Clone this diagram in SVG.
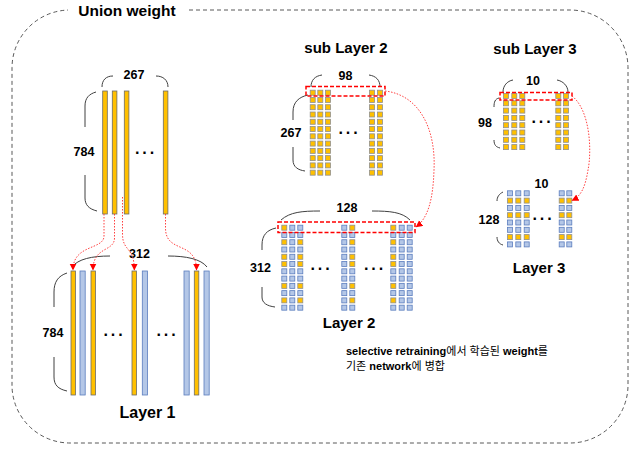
<svg xmlns="http://www.w3.org/2000/svg" width="640" height="454" viewBox="0 0 640 454">
<style>
text{font-family:"Liberation Sans","Noto Sans CJK KR",sans-serif;fill:#000}
.t{font-size:15px;font-weight:bold;text-anchor:middle}
.n{font-size:12.5px;font-weight:bold;text-anchor:middle}
.d{font-size:16px;font-weight:bold;text-anchor:middle;letter-spacing:2px}
.so{fill:#FFC000;stroke:#8f8f8f;stroke-width:0.8}
.sb{fill:#B4C7E7;stroke:#5B7DBF;stroke-width:0.8}
.bo{fill:#FFC000;stroke:#6b6b6b;stroke-width:0.8}
.bb{fill:#B4C7E7;stroke:#5B7DBF;stroke-width:0.8}
.br{fill:none;stroke:#404040;stroke-width:1}
.rb{fill:none;stroke:#FF0000;stroke-width:1.5;stroke-dasharray:4 2}
.cn{fill:none;stroke:#FF4040;stroke-width:1;stroke-dasharray:1.5 1.5}
</style>
<defs>
<marker id="ah" markerUnits="userSpaceOnUse" markerWidth="8" markerHeight="8" refX="6.5" refY="3.5" orient="auto">
<path d="M0,0 L7,3.5 L0,7 Z" fill="#FF0000"/>
</marker>
<g id="c12o">
<rect class="so" x="0" y="0" width="5" height="5"/><rect class="so" x="0" y="7.27" width="5" height="5"/><rect class="so" x="0" y="14.54" width="5" height="5"/><rect class="so" x="0" y="21.81" width="5" height="5"/><rect class="so" x="0" y="29.08" width="5" height="5"/><rect class="so" x="0" y="36.35" width="5" height="5"/><rect class="so" x="0" y="43.62" width="5" height="5"/><rect class="so" x="0" y="50.89" width="5" height="5"/><rect class="so" x="0" y="58.16" width="5" height="5"/><rect class="so" x="0" y="65.43" width="5" height="5"/><rect class="so" x="0" y="72.7" width="5" height="5"/><rect class="so" x="0" y="79.97" width="5" height="5"/>
</g>
<g id="c12a">
<rect class="so" x="0" y="0" width="5" height="5"/><rect class="sb" x="0" y="7.27" width="5" height="5"/><rect class="so" x="0" y="14.54" width="5" height="5"/><rect class="sb" x="0" y="21.81" width="5" height="5"/><rect class="so" x="0" y="29.08" width="5" height="5"/><rect class="so" x="0" y="36.35" width="5" height="5"/><rect class="sb" x="0" y="43.62" width="5" height="5"/><rect class="sb" x="0" y="50.89" width="5" height="5"/><rect class="so" x="0" y="58.16" width="5" height="5"/><rect class="sb" x="0" y="65.43" width="5" height="5"/><rect class="so" x="0" y="72.7" width="5" height="5"/><rect class="sb" x="0" y="79.97" width="5" height="5"/>
</g>
<g id="c12c">
<rect class="sb" x="0" y="0" width="5" height="5"/><rect class="sb" x="0" y="7.27" width="5" height="5"/><rect class="so" x="0" y="14.54" width="5" height="5"/><rect class="sb" x="0" y="21.81" width="5" height="5"/><rect class="so" x="0" y="29.08" width="5" height="5"/><rect class="so" x="0" y="36.35" width="5" height="5"/><rect class="sb" x="0" y="43.62" width="5" height="5"/><rect class="sb" x="0" y="50.89" width="5" height="5"/><rect class="so" x="0" y="58.16" width="5" height="5"/><rect class="sb" x="0" y="65.43" width="5" height="5"/><rect class="so" x="0" y="72.7" width="5" height="5"/><rect class="sb" x="0" y="79.97" width="5" height="5"/>
</g>
<g id="c12b">
<rect class="sb" x="0" y="0" width="5" height="5"/><rect class="sb" x="0" y="7.27" width="5" height="5"/><rect class="sb" x="0" y="14.54" width="5" height="5"/><rect class="sb" x="0" y="21.81" width="5" height="5"/><rect class="sb" x="0" y="29.08" width="5" height="5"/><rect class="sb" x="0" y="36.35" width="5" height="5"/><rect class="sb" x="0" y="43.62" width="5" height="5"/><rect class="sb" x="0" y="50.89" width="5" height="5"/><rect class="sb" x="0" y="58.16" width="5" height="5"/><rect class="sb" x="0" y="65.43" width="5" height="5"/><rect class="sb" x="0" y="72.7" width="5" height="5"/><rect class="sb" x="0" y="79.97" width="5" height="5"/>
</g>
<g id="c8o">
<rect class="so" x="0" y="0" width="5" height="5"/><rect class="so" x="0" y="7.3" width="5" height="5"/><rect class="so" x="0" y="14.6" width="5" height="5"/><rect class="so" x="0" y="21.9" width="5" height="5"/><rect class="so" x="0" y="29.2" width="5" height="5"/><rect class="so" x="0" y="36.5" width="5" height="5"/><rect class="so" x="0" y="43.8" width="5" height="5"/><rect class="so" x="0" y="51.1" width="5" height="5"/>
</g>
<g id="c8l">
<rect class="sb" x="0" y="0" width="5" height="5"/><rect class="so" x="0" y="7.3" width="5" height="5"/><rect class="sb" x="0" y="14.6" width="5" height="5"/><rect class="so" x="0" y="21.9" width="5" height="5"/><rect class="sb" x="0" y="29.2" width="5" height="5"/><rect class="sb" x="0" y="36.5" width="5" height="5"/><rect class="so" x="0" y="43.8" width="5" height="5"/><rect class="sb" x="0" y="51.1" width="5" height="5"/>
</g>
</defs>
<rect width="640" height="454" fill="#FFFFFF"/>

<g id="frame">
<rect x="12" y="10" width="616" height="433" rx="58" ry="58" fill="none" stroke="#595959" stroke-width="1" stroke-dasharray="4 3"/>
<rect x="68" y="0" width="118" height="20" fill="#FFFFFF"/>
<text x="127" y="15.5" style="font-size:15.5px;font-weight:bold;text-anchor:middle">Union weight</text>
</g>

<g id="layer1-source">
<rect class="bo" x="102.7" y="91" width="4.6" height="123"/>
<rect class="bo" x="112.3" y="91" width="4.6" height="123"/>
<rect class="bo" x="124.3" y="91" width="4.6" height="123"/>
<rect class="bo" x="163.3" y="91" width="4.6" height="123"/>
<path class="br" d="M102,87 C102,80 106,76 113,76"/>
<path class="br" d="M156,76 C163,76 168,80 168,87"/>
<text class="n" x="134" y="78.5">267</text>
<path class="br" d="M96,92 C89,94 85,98 85,106 L85,127"/>
<path class="br" d="M85,175 L85,198 C85,205 89,209 97,211"/>
<text class="n" x="84" y="155.5">784</text>
<text class="d" x="146" y="157.5">···</text>
</g>

<g id="layer1">
<rect class="bo" x="71" y="271" width="4.5" height="124"/>
<rect class="bb" x="80" y="271" width="5.2" height="124"/>
<rect class="bo" x="91" y="271" width="4.5" height="124"/>
<rect class="bo" x="132" y="271" width="4.5" height="124"/>
<rect class="bb" x="142.3" y="271" width="5.2" height="124"/>
<rect class="bb" x="184" y="271" width="5.2" height="124"/>
<rect class="bo" x="194.3" y="271" width="4.5" height="124"/>
<rect class="bb" x="204" y="271" width="5.2" height="124"/>
<path class="br" d="M72,267 C78,259 92,256 110,256"/>
<path class="br" d="M168,256 C186,256 201,259 207,267"/>
<text class="n" x="139.5" y="257.5">312</text>
<path class="br" d="M67,273 C58,276 54,282 54,292 L54,307"/>
<path class="br" d="M54,357 L54,377 C54,385 58,389 67,391"/>
<text class="n" x="53" y="336.5">784</text>
<text class="d" x="114.5" y="339.5">···</text>
<text class="d" x="167.5" y="339.5">···</text>
<text class="t" x="147.5" y="418" style="font-size:16px">Layer 1</text>
</g>

<g id="sub-layer2">
<text class="t" x="346" y="52.5">sub Layer 2</text>
<use href="#c12o" x="310.2" y="90.2"/>
<use href="#c12o" x="317.8" y="90.2"/>
<use href="#c12o" x="325.5" y="90.2"/>
<use href="#c12o" x="369.5" y="90.2"/>
<use href="#c12o" x="377.5" y="90.2"/>
<path class="br" d="M311,87 C311,80 315,76 322,75"/>
<path class="br" d="M369,75 C376,76 380,80 380,87"/>
<text class="n" x="345.5" y="79.5">98</text>
<path class="br" d="M308,95 C299,97 293,102 293,112 L293,120"/>
<path class="br" d="M293,147 L293,160 C293,167 298,170 305,171"/>
<text class="n" x="291" y="136.5">267</text>
<text class="d" x="349.5" y="137.5">···</text>
<rect class="rb" x="306" y="86.5" width="79" height="9.5"/>
</g>

<g id="layer2">
<use href="#c12a" x="281.8" y="225.2"/>
<use href="#c12b" x="289.8" y="225.2"/>
<use href="#c12c" x="297.8" y="225.2"/>
<use href="#c12b" x="341.8" y="225.2"/>
<use href="#c12a" x="349.8" y="225.2"/>
<use href="#c12a" x="390.8" y="225.2"/>
<use href="#c12b" x="399.2" y="225.2"/>
<use href="#c12b" x="407.2" y="225.2"/>
<path class="br" d="M281,220 C290,212 302,211 320,211"/>
<path class="br" d="M372,211 C390,211 402,212 410,220"/>
<text class="n" x="347" y="211.5">128</text>
<path class="br" d="M276,228 C267,230 262,235 262,245 L262,250"/>
<path class="br" d="M262,287 L262,297 C262,303 267,306 275,307"/>
<text class="n" x="260.5" y="271.5">312</text>
<text class="d" x="321.5" y="273.5">···</text>
<text class="d" x="375" y="273.5">···</text>
<rect class="rb" x="278" y="222" width="137" height="10.5"/>
<text class="t" x="349" y="327.5">Layer 2</text>
</g>

<g id="sub-layer3">
<text class="t" x="535" y="53.5">sub Layer 3</text>
<use href="#c8o" x="503.5" y="93.5"/>
<use href="#c8o" x="511.8" y="93.5"/>
<use href="#c8o" x="519.8" y="93.5"/>
<use href="#c8o" x="555.8" y="93.5"/>
<use href="#c8o" x="563.5" y="93.5"/>
<path class="br" d="M503,92 C503,86 507,81 513,80"/>
<path class="br" d="M557,80 C563,81 568,86 568,92"/>
<text class="n" x="533" y="84.5">10</text>
<path class="br" d="M499,98 C495,99 494,102 494,107"/>
<path class="br" d="M494,140 C494,145 496,147 500,148"/>
<text class="n" x="485" y="126.5">98</text>
<text class="d" x="542.5" y="126.5">···</text>
<rect class="rb" x="500" y="92.5" width="72" height="7.5"/>
</g>

<g id="layer3">
<use href="#c8l" x="507.5" y="190.8"/>
<use href="#c8l" x="515.8" y="190.8"/>
<use href="#c8l" x="524.2" y="190.8"/>
<use href="#c8l" x="559.2" y="190.8"/>
<use href="#c8l" x="566.8" y="190.8"/>
<text class="n" x="541.5" y="187.5">10</text>
<path class="br" d="M503,192 C499,194 497,197 497,201"/>
<path class="br" d="M497,237 C497,241 499,244 503,245"/>
<text class="n" x="489" y="223.5">128</text>
<text class="d" x="543.5" y="223.5">···</text>
<text class="t" x="539" y="272.5">Layer 3</text>
</g>

<g id="note">
<text x="346" y="355" style="font-size:11px"><tspan font-weight="bold">selective retraining</tspan>에서 학습된 <tspan font-weight="bold">weight</tspan>를</text>
<text x="346" y="370" style="font-size:11px">기존 <tspan font-weight="bold">network</tspan>에 병합</text>
</g>

<g id="connectors">
<path class="cn" d="M104,214 V236 C104,250 73,244 73,270" marker-end="url(#ah)"/>
<path class="cn" d="M114.5,214 V238 C114.5,252 93,246 93,270" marker-end="url(#ah)"/>
<path class="cn" d="M122.5,197 V234 C122.5,252 134.3,246 134.3,270" marker-end="url(#ah)"/>
<path class="cn" d="M165.5,214 V228 C165.5,254 196.5,240 196.5,270" marker-end="url(#ah)"/>
<path class="cn" d="M385,91 C420,95 436,130 434,170 C433,200 428,218 416,227" marker-end="url(#ah)"/>
<path class="cn" d="M572,96 C590,110 592,150 588,170 C585,188 581,196 572,200.5" marker-end="url(#ah)"/>
</g>
</svg>
